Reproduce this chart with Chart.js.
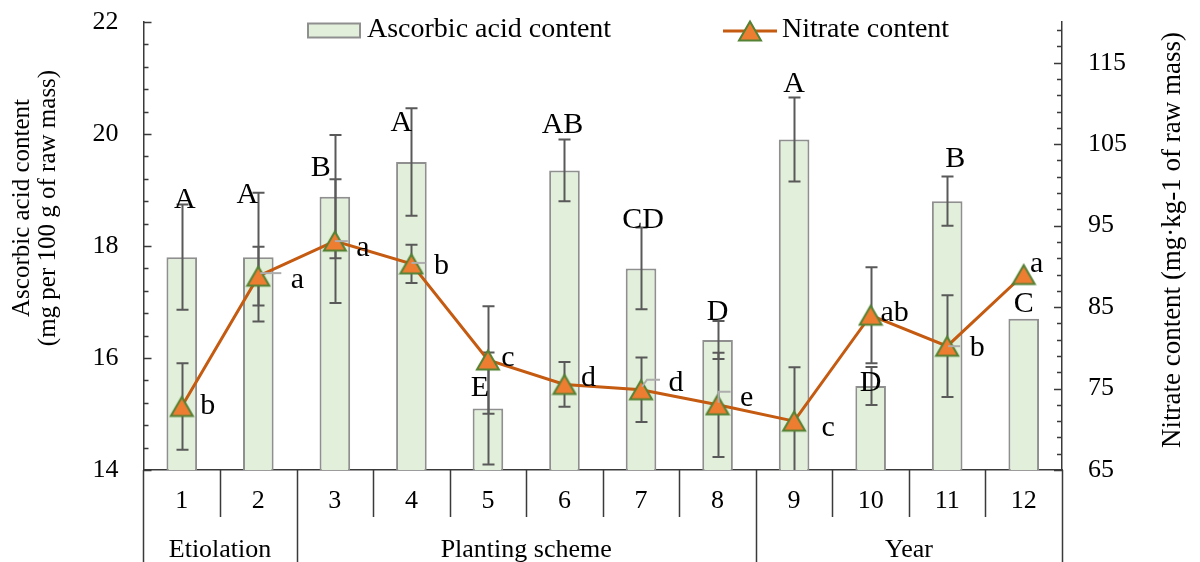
<!DOCTYPE html>
<html lang="en">
<head>
<meta charset="UTF-8">
<title>Ascorbic acid and nitrate content</title>
<script src="https://cdn.jsdelivr.net/npm/chart.js@4.4.0/dist/chart.umd.min.js"></script>
<style>
  html, body { margin: 0; padding: 0; background: #fff; }
  #wrap { width: 1200px; height: 562px; }
</style>
</head>
<body>
<div id="wrap"><canvas id="chart" width="1200" height="562"></canvas></div>
<script>
// categories along the bottom and the groups they belong to
const categories = ['1', '2', '3', '4', '5', '6', '7', '8', '9', '10', '11', '12'];
const groups = ['Etiolation', 'Planting scheme', 'Year'];
const groupSizes = [2, 6, 4];

// ascorbic acid, mg per 100 g of raw mass (left axis, bars)
const ascorbic = [17.8, 17.8, 18.88, 19.5, 15.1, 19.35, 17.6, 16.32, 19.9, 15.5, 18.8, 16.7];
const ascorbicErr = [0.94, 1.15, 1.1, 0.96, 1.0, 0.55, 0.73, 0.34, 0.75, 0.34, 0.44, 0];
const ascorbicLetters = ['A', 'A', 'B', 'A', 'E', 'AB', 'CD', 'D', 'A', 'D', 'B', 'C'];

// nitrate, mg/kg of raw mass (right axis, line)
const nitrate = [72.8, 88.8, 93.1, 90.3, 78.5, 75.5, 74.85, 73.0, 71.0, 84.0, 80.2, 89.0];
const nitrateErr = [5.3, 3.6, 7.6, 2.35, 6.6, 2.75, 3.95, 6.4, 6.6, 5.9, 6.25, 0];
const nitrateLetters = ['b', 'a', 'a', 'b', 'c', 'd', 'd', 'e', 'c', 'ab', 'b', 'a'];

// axis ranges / tick spacing
const leftMin = 14, leftMax = 22, leftStep = 0.4, leftLabelStep = 2;
const rightMin = 65, rightMax = 120, rightStep = 2, rightLabelStep = 10;

// ---- styling / placement below ----
const SERIF = '"Liberation Serif", "Times New Roman", serif';
const barFill = '#E2EFDA';
const barEdge = '#8F8F8F';
const lineColor = '#C55A11';
const errColor = '#595959';
const axisColor = '#3a3a3a';

Chart.defaults.font.family = SERIF;
Chart.defaults.color = '#000';

// letter placement relative to bar top / line point (px)
const ascLetterShift = [[3, -57], [-11, -62], [-14, -29], [-10, -39], [-8, -20], [-2, -45], [2, -48], [0, -28], [0, -55], [0, -3], [8, -42], [0, -15]];
const nitLetterShift = [[26, 0], [39, 4], [28, 7], [30, 2], [20, -2], [24, -6], [35, -7], [29, -7], [34, 7], [24, -2], [30, 2], [13, -10]];
// short grey leader lines next to some points: [dx0, dy0, dx1, dy1, ...]
const leaders = {1: [2, -3, 23, -3], 2: [0, 0, 13, 0], 3: [0, -1, 14, -1], 6: [1, -3, 6, -10, 19, -10], 7: [1, -2, 1, -13, 13, -13], 10: [1, 0, 13, 0]};

function makeTicks(min, max, step) {
  const out = [];
  for (let k = 0; min + k * step <= max + 1e-9; k++) out.push(+(min + k * step).toFixed(3));
  return out;
}
function isMultiple(v, base, step) {
  const q = (v - base) / step;
  return Math.abs(q - Math.round(q)) < 1e-6;
}
// fixed axis sizes, no extra label padding
function fixSize(w, h) {
  return s => {
    if (w != null) s.width = w;
    if (h != null) s.height = h;
    s.paddingTop = 0; s.paddingBottom = 0; s.paddingLeft = 0; s.paddingRight = 0;
  };
}

// triangle marker, centred on its bounding box like the original
function makeMarker() {
  const c = document.createElement('canvas');
  c.width = 26; c.height = 24;
  const g = c.getContext('2d');
  g.beginPath();
  g.moveTo(13, 2.5); g.lineTo(24, 21.5); g.lineTo(2, 21.5); g.closePath();
  g.fillStyle = '#ED7D31'; g.fill();
  g.strokeStyle = '#548235'; g.lineWidth = 2; g.stroke();
  return c;
}
const marker = makeMarker();

function vText(ctx, text, x, y, font) {
  ctx.save();
  ctx.translate(x, y);
  ctx.rotate(-Math.PI / 2);
  ctx.font = font;
  ctx.textAlign = 'center';
  ctx.textBaseline = 'middle';
  ctx.fillText(text, 0, 0);
  ctx.restore();
}

const decor = {
  id: 'decor',
  // error bars go on top of the bars but under the line
  afterDatasetDraw(chart, args) {
    if (args.index !== 0) return;
    const ctx = chart.ctx, x = chart.scales.x, area = chart.chartArea;
    ctx.save();
    ctx.beginPath();
    ctx.rect(area.left, area.top, area.right - area.left, area.bottom - area.top);
    ctx.clip();
    ctx.strokeStyle = errColor;
    ctx.lineWidth = 2;
    const cap = 6;
    const drawErr = (vals, errs, scale) => vals.forEach((v, i) => {
      if (!errs[i]) return;
      const px = Math.round(x.getPixelForValue(i)) + 0.5;
      const top = scale.getPixelForValue(v + errs[i]);
      const bot = scale.getPixelForValue(v - errs[i]);
      ctx.beginPath();
      ctx.moveTo(px, top); ctx.lineTo(px, bot);
      ctx.moveTo(px - cap, top); ctx.lineTo(px + cap, top);
      ctx.moveTo(px - cap, bot); ctx.lineTo(px + cap, bot);
      ctx.stroke();
    });
    drawErr(ascorbic, ascorbicErr, chart.scales.y);
    drawErr(nitrate, nitrateErr, chart.scales.y1);
    ctx.restore();
  },
  afterDraw(chart) {
    const ctx = chart.ctx, area = chart.chartArea;
    const x = chart.scales.x, yL = chart.scales.y, yR = chart.scales.y1;
    ctx.save();

    // inside tick marks on both value axes
    ctx.strokeStyle = axisColor;
    ctx.lineWidth = 1.5;
    ctx.beginPath();
    yL.ticks.forEach(t => {
      const py = Math.round(yL.getPixelForValue(t.value)) + 0.5;
      const len = isMultiple(t.value, leftMin, leftLabelStep) ? 8 : 5;
      ctx.moveTo(area.left, py); ctx.lineTo(area.left + len, py);
    });
    yR.ticks.forEach(t => {
      if (!isMultiple(t.value, rightMin, rightStep)) return;
      const py = Math.round(yR.getPixelForValue(t.value)) + 0.5;
      const len = isMultiple(t.value, rightMin, rightLabelStep) ? 8 : 5;
      ctx.moveTo(area.right, py); ctx.lineTo(area.right - len, py);
    });
    ctx.stroke();

    // category table below the axis
    const half = (x.getPixelForValue(1) - x.getPixelForValue(0)) / 2;
    const edge = i => x.getPixelForValue(i) - half;
    const groupEdges = [0];
    groupSizes.forEach(s => groupEdges.push(groupEdges[groupEdges.length - 1] + s));
    ctx.beginPath();
    for (let i = 0; i <= categories.length; i++) {
      const px = Math.round(edge(i)) + 0.5;
      const long = groupEdges.includes(i);
      ctx.moveTo(px, area.bottom);
      ctx.lineTo(px, long ? chart.height : area.bottom + 47);
    }
    ctx.stroke();
    ctx.fillStyle = '#000';
    ctx.font = '26px ' + SERIF;
    ctx.textAlign = 'center';
    ctx.textBaseline = 'middle';
    groups.forEach((g, k) => {
      const cx = (edge(groupEdges[k]) + edge(groupEdges[k + 1])) / 2;
      ctx.fillText(g, cx, area.bottom + 80);
    });

    // grey leader lines
    ctx.strokeStyle = '#ADADAD';
    ctx.lineWidth = 2;
    Object.keys(leaders).forEach(k => {
      const i = +k, seg = leaders[k];
      const px = x.getPixelForValue(i), py = yR.getPixelForValue(nitrate[i]);
      ctx.beginPath();
      ctx.moveTo(px + seg[0], py + seg[1]);
      for (let j = 2; j < seg.length; j += 2) ctx.lineTo(px + seg[j], py + seg[j + 1]);
      ctx.stroke();
    });

    // significance letters
    ctx.font = '30px ' + SERIF;
    ascorbicLetters.forEach((s, i) => {
      const px = x.getPixelForValue(i), py = yL.getPixelForValue(ascorbic[i]);
      ctx.fillText(s, px + ascLetterShift[i][0], py + ascLetterShift[i][1]);
    });
    nitrateLetters.forEach((s, i) => {
      const px = x.getPixelForValue(i), py = yR.getPixelForValue(nitrate[i]);
      ctx.fillText(s, px + nitLetterShift[i][0], py + nitLetterShift[i][1]);
    });

    // legend
    const ds = chart.data.datasets;
    ctx.font = '28px ' + SERIF;
    ctx.textAlign = 'left';
    ctx.fillStyle = barFill;
    ctx.fillRect(308, 23.5, 52, 14);
    ctx.strokeStyle = barEdge;
    ctx.lineWidth = 2;
    ctx.strokeRect(308, 23.5, 52, 14);
    ctx.fillStyle = '#000';
    ctx.fillText(ds[0].label, 367, 30);
    ctx.strokeStyle = lineColor;
    ctx.lineWidth = 3;
    ctx.beginPath();
    ctx.moveTo(723, 31); ctx.lineTo(777, 31);
    ctx.stroke();
    ctx.drawImage(marker, 750 - marker.width / 2, 31 - marker.height / 2);
    ctx.fillText(ds[1].label, 782, 30);

    // axis titles
    vText(ctx, 'Ascorbic acid content', 22, 208, '25px ' + SERIF);
    vText(ctx, '(mg per 100 g of raw mass)', 48, 208, '25px ' + SERIF);
    vText(ctx, 'Nitrate content (mg\u00B7kg-1 of raw mass)', 1173, 240, '27px ' + SERIF);
    ctx.restore();
  }
};

new Chart(document.getElementById('chart'), {
  type: 'bar',
  data: {
    labels: categories,
    datasets: [
      {
        label: 'Ascorbic acid content',
        data: ascorbic,
        yAxisID: 'y',
        backgroundColor: barFill,
        borderColor: barEdge,
        borderWidth: 2,
        barPercentage: 0.4,
        categoryPercentage: 1,
        order: 1
      },
      {
        type: 'line',
        label: 'Nitrate content',
        data: nitrate,
        yAxisID: 'y1',
        borderColor: lineColor,
        borderWidth: 3,
        tension: 0,
        pointStyle: marker,
        pointRadius: 6,
        order: 0
      }
    ]
  },
  options: {
    responsive: false,
    animation: false,
    layout: { padding: { top: 22, left: 0, right: 0, bottom: 0 } },
    plugins: { legend: { display: false }, tooltip: { enabled: false } },
    scales: {
      x: {
        offset: true,
        grid: { drawOnChartArea: false, drawTicks: false },
        border: { color: axisColor, width: 1.5 },
        ticks: { color: '#000', font: { family: SERIF, size: 26 }, padding: 16, autoSkip: false, maxRotation: 0 },
        afterFit: fixSize(null, 92)
      },
      y: {
        position: 'left',
        min: leftMin, max: leftMax,
        afterBuildTicks: s => { s.ticks = makeTicks(leftMin, leftMax, leftStep).map(v => ({ value: v })); },
        grid: { drawOnChartArea: false, drawTicks: false },
        border: { color: axisColor, width: 1.5 },
        ticks: {
          color: '#000', font: { family: SERIF, size: 26 }, padding: 25, autoSkip: false,
          callback: v => isMultiple(v, leftMin, leftLabelStep) ? String(Math.round(v)) : ''
        },
        afterFit: fixSize(143.5, null)
      },
      y1: {
        position: 'right',
        min: rightMin, max: rightMax,
        afterBuildTicks: s => { s.ticks = makeTicks(rightMin, rightMax, rightStep).map(v => ({ value: v })); },
        grid: { drawOnChartArea: false, drawTicks: false },
        border: { color: axisColor, width: 1.5 },
        ticks: {
          color: '#000', font: { family: SERIF, size: 26 }, padding: 26, autoSkip: false,
          callback: v => (isMultiple(v, rightMin, rightLabelStep) && v < rightMax) ? String(Math.round(v)) : ''
        },
        afterFit: fixSize(138, null)
      }
    }
  },
  plugins: [decor]
});
</script>
</body>
</html>
